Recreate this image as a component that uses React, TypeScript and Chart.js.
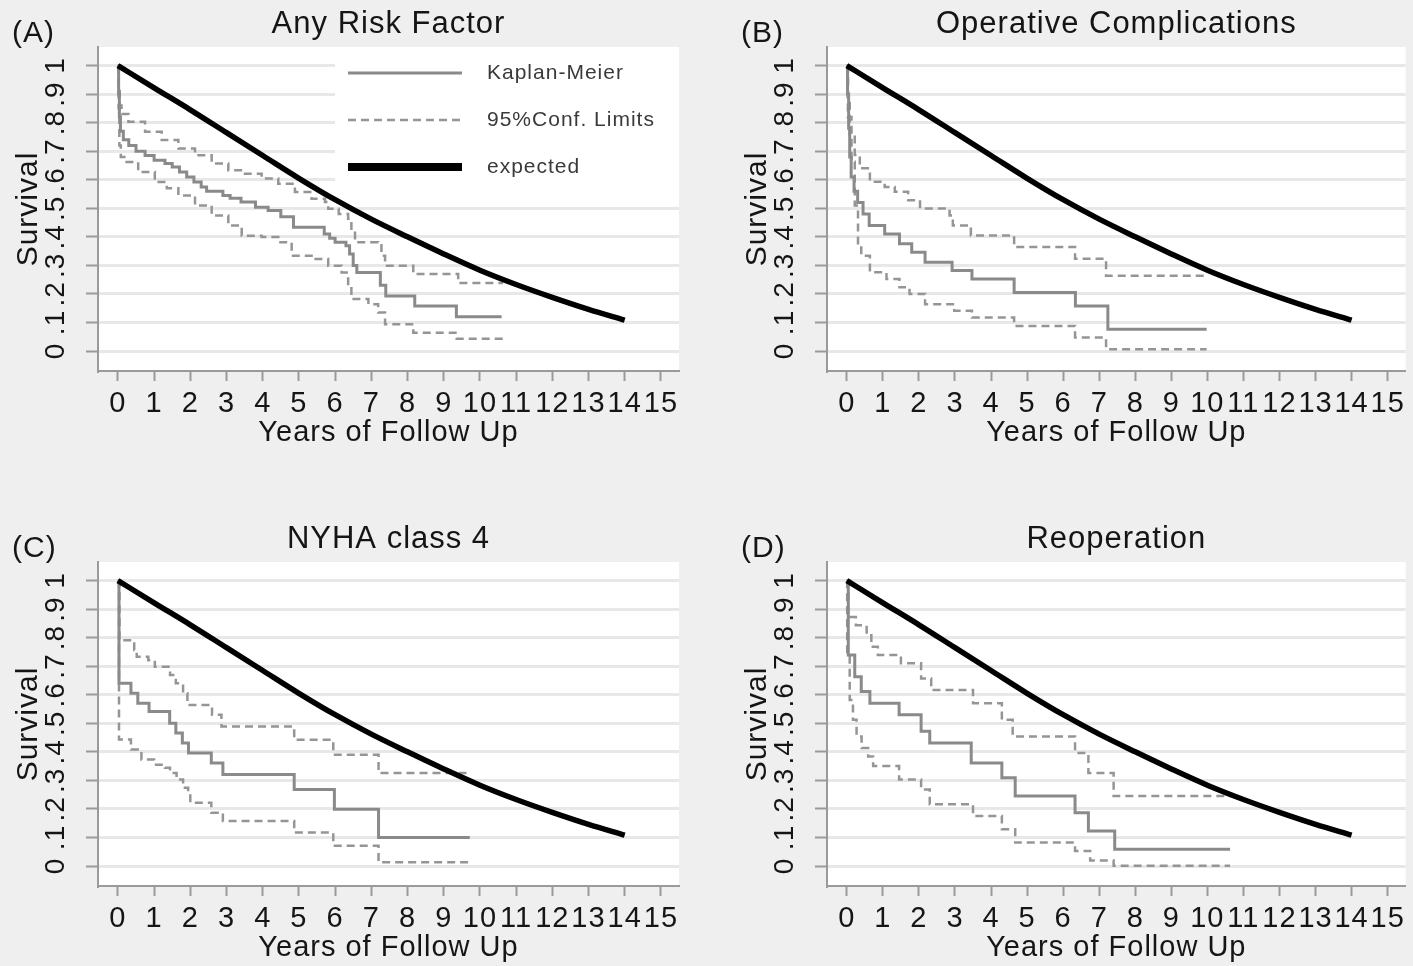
import React, { useEffect, useRef } from 'react';
import { Chart, registerables } from 'chart.js';

Chart.register(...registerables);

const FONT = '"Liberation Sans", Arial, Helvetica, sans-serif';
const TEXT = '#151515';
const KM_GRAY = '#8a8a8a';
const CI_GRAY = '#959595';
const GRID = '#e8e8e8';
const AXIS = '#9a9a9a';
const PAGE_BG = '#efefef';

// Axis ticks
const xTickValues = [0, 1, 2, 3, 4, 5, 6, 7, 8, 9, 10, 11, 12, 13, 14, 15];
const xTickLabels = ['0', '1', '2', '3', '4', '5', '6', '7', '8', '9', '10', '11', '12', '13', '14', '15'];
const yTickValues = [0, 0.1, 0.2, 0.3, 0.4, 0.5, 0.6, 0.7, 0.8, 0.9, 1];
const yTickLabels = ['0', '.1', '.2', '.3', '.4', '.5', '.6', '.7', '.8', '.9', '1'];

// Expected survival of the matched population
const expYears = [0, 1, 2, 3, 4, 5, 6, 7, 8, 9, 10, 11, 12, 13, 14];
const expSurv = [1, 0.922, 0.845, 0.765, 0.685, 0.605, 0.53, 0.462, 0.4, 0.34, 0.283, 0.233, 0.188, 0.146, 0.108];

// (A) Any risk factor: [years, survival]
const kmA: [number, number][] = [
  [0, 1], [0.02, 0.9], [0.04, 0.82], [0.07, 0.77], [0.15, 0.74], [0.3, 0.72], [0.5, 0.7], [0.75, 0.685],
  [1.0, 0.668], [1.3, 0.657], [1.5, 0.645], [1.7, 0.627], [1.9, 0.61], [2.1, 0.592], [2.3, 0.575],
  [2.45, 0.56], [2.9, 0.545], [3.1, 0.535], [3.4, 0.522], [3.8, 0.504], [4.15, 0.492], [4.5, 0.47],
  [4.85, 0.434], [5.7, 0.41], [5.85, 0.395], [6.0, 0.381], [6.3, 0.369], [6.4, 0.34], [6.5, 0.3],
  [6.6, 0.275], [7.25, 0.23], [7.4, 0.193], [8.2, 0.158], [9.35, 0.12], [10.6, 0.12],
];
const upA: [number, number][] = [
  [0, 1], [0.02, 0.93], [0.05, 0.86], [0.1, 0.83], [0.29, 0.803], [0.75, 0.768], [1.21, 0.739],
  [1.67, 0.709], [2.13, 0.686], [2.59, 0.657], [3.05, 0.633], [3.51, 0.621], [3.97, 0.604],
  [4.43, 0.586], [4.89, 0.557], [5.35, 0.533], [5.72, 0.522], [5.81, 0.498], [6.1, 0.48],
  [6.36, 0.463], [6.45, 0.428], [6.55, 0.381], [7.19, 0.375], [7.28, 0.334], [7.38, 0.299],
  [8.16, 0.27], [9.4, 0.238], [10.64, 0.238],
];
const loA: [number, number][] = [
  [0, 1], [0.02, 0.85], [0.04, 0.72], [0.08, 0.68], [0.24, 0.662], [0.56, 0.627], [1.02, 0.592],
  [1.35, 0.57], [1.67, 0.545], [2.13, 0.51], [2.59, 0.475], [3.05, 0.44], [3.42, 0.404], [3.97, 0.399],
  [4.43, 0.381], [4.8, 0.334], [5.35, 0.322], [5.81, 0.299], [6.18, 0.275], [6.36, 0.229], [6.45, 0.182],
  [6.92, 0.164], [7.19, 0.135], [7.38, 0.094], [8.16, 0.064], [9.36, 0.043], [10.64, 0.043],
];

// (B) Operative complications
const kmB: [number, number][] = [
  [0, 1], [0.02, 0.9], [0.05, 0.78], [0.08, 0.68], [0.12, 0.61], [0.2, 0.56], [0.3, 0.52], [0.45, 0.48],
  [0.62, 0.44], [1.05, 0.41], [1.46, 0.376], [1.8, 0.346], [2.17, 0.311], [2.92, 0.282], [3.47, 0.252],
  [4.64, 0.205], [6.34, 0.158], [7.24, 0.076], [9.98, 0.076],
];
const upB: [number, number][] = [
  [0, 1], [0.03, 0.88], [0.08, 0.757], [0.22, 0.687], [0.36, 0.64], [0.64, 0.593], [1.05, 0.575],
  [1.33, 0.558], [1.7, 0.528], [2.03, 0.499], [2.85, 0.475], [2.94, 0.44], [3.44, 0.405], [4.64, 0.364],
  [6.33, 0.323], [7.19, 0.264], [9.98, 0.264],
];
const loB: [number, number][] = [
  [0, 1], [0.03, 0.82], [0.13, 0.663], [0.22, 0.51], [0.31, 0.37], [0.4, 0.334], [0.64, 0.276],
  [1.1, 0.252], [1.46, 0.223], [1.74, 0.2], [2.17, 0.164], [2.98, 0.141], [3.47, 0.117], [4.64, 0.088],
  [6.33, 0.047], [7.19, 0.006], [9.98, 0.006],
];

// (C) NYHA class 4
const kmC: [number, number][] = [
  [0, 1], [0.03, 0.64], [0.36, 0.605], [0.55, 0.57], [0.86, 0.541], [1.43, 0.5], [1.6, 0.466],
  [1.78, 0.431], [1.95, 0.396], [2.58, 0.361], [2.9, 0.321], [4.87, 0.268], [5.98, 0.199], [7.2, 0.1],
  [9.72, 0.1],
];
const upC: [number, number][] = [
  [0, 1], [0.04, 0.791], [0.45, 0.756], [0.52, 0.733], [0.84, 0.721], [1.02, 0.698], [1.44, 0.669],
  [1.6, 0.64], [1.8, 0.605], [1.92, 0.564], [2.6, 0.53], [2.86, 0.489], [4.87, 0.442], [5.95, 0.39],
  [7.2, 0.326], [9.72, 0.326],
];
const loC: [number, number][] = [
  [0, 1], [0.03, 0.443], [0.36, 0.408], [0.65, 0.373], [1.0, 0.355], [1.3, 0.344], [1.44, 0.326],
  [1.62, 0.303], [1.8, 0.274], [1.94, 0.257], [2.0, 0.222], [2.58, 0.187], [2.9, 0.158], [4.87, 0.117],
  [5.95, 0.071], [7.2, 0.013], [9.72, 0.013],
];

// (D) Reoperation
const kmD: [number, number][] = [
  [0, 1], [0.04, 0.739], [0.22, 0.663], [0.4, 0.611], [0.64, 0.57], [1.45, 0.53], [2.06, 0.472],
  [2.3, 0.431], [3.45, 0.361], [4.3, 0.309], [4.67, 0.245], [6.33, 0.187], [6.7, 0.123], [7.43, 0.059],
  [10.63, 0.059],
];
const upD: [number, number][] = [
  [0, 1], [0.04, 0.872], [0.25, 0.843], [0.55, 0.808], [0.68, 0.768], [0.86, 0.739], [1.5, 0.71],
  [2.06, 0.657], [2.34, 0.617], [3.5, 0.57], [4.3, 0.512], [4.6, 0.454], [6.33, 0.396], [6.7, 0.326],
  [7.4, 0.245], [10.63, 0.245],
];
const loD: [number, number][] = [
  [0, 1], [0.01, 0.75], [0.08, 0.582], [0.17, 0.512], [0.27, 0.454], [0.41, 0.413], [0.59, 0.384],
  [0.73, 0.35], [1.45, 0.303], [2.06, 0.268], [2.3, 0.216], [3.5, 0.175], [4.3, 0.129], [4.67, 0.082],
  [6.33, 0.053], [6.75, 0.019], [7.4, 0.001], [10.63, 0.001],
];

type PanelSpec = {
  letter: string;
  title: string;
  km: [number, number][];
  upper: [number, number][];
  lower: [number, number][];
  legend: boolean;
  left: number;
  top: number;
  width: number;
  padRight: number;
};

const PANEL_HEIGHT = 451;

const panels: PanelSpec[] = [
  { letter: '(A)', title: 'Any Risk Factor', km: kmA, upper: upA, lower: loA, legend: true, left: 0, top: 0, width: 700, padRight: 21 },
  { letter: '(B)', title: 'Operative Complications', km: kmB, upper: upB, lower: loB, legend: false, left: 729, top: 0, width: 684, padRight: 5 },
  { letter: '(C)', title: 'NYHA class 4', km: kmC, upper: upC, lower: loC, legend: false, left: 0, top: 515, width: 700, padRight: 21 },
  { letter: '(D)', title: 'Reoperation', km: kmD, upper: upD, lower: loD, legend: false, left: 729, top: 515, width: 684, padRight: 5 },
];

const toPoints = (pairs: [number, number][]) => pairs.map(([x, y]) => ({ x, y }));

// Slightly open letter spacing for every text drawn on the canvas
const spacingPlugin = {
  id: 'spacing',
  beforeUpdate(chart: any) { chart.ctx.letterSpacing = '1px'; },
  beforeDraw(chart: any) { chart.ctx.letterSpacing = '1px'; },
};

// White plot region, inside legend and the panel letter
const panelPlugin = {
  id: 'panelDecor',
  beforeDraw(chart: any) {
    const { ctx, chartArea: a } = chart;
    ctx.save();
    ctx.fillStyle = '#ffffff';
    ctx.fillRect(a.left, a.top, a.right - a.left, a.bottom - a.top);
    ctx.restore();
  },
  beforeDatasetsDraw(chart: any, _args: any, opts: any) {
    if (!opts || !opts.showLegend) return;
    const { ctx, chartArea: a } = chart;
    ctx.save();
    ctx.fillStyle = '#ffffff';
    ctx.fillRect(a.left + 237, a.top, a.right - (a.left + 237), 145);
    const order = [1, 2, 0];
    order.forEach((di, i) => {
      const ds = chart.data.datasets[di];
      const y = a.top + 26 + i * 47;
      ctx.strokeStyle = ds.borderColor;
      ctx.lineWidth = di === 0 ? 8 : ds.borderWidth;
      ctx.setLineDash(ds.borderDash || []);
      ctx.beginPath();
      ctx.moveTo(a.left + 250, y);
      ctx.lineTo(a.left + 364, y);
      ctx.stroke();
      ctx.setLineDash([]);
      ctx.fillStyle = '#3a3a3a';
      ctx.font = `21px ${FONT}`;
      ctx.textAlign = 'left';
      ctx.textBaseline = 'middle';
      ctx.fillText(ds.label, a.left + 389, y);
    });
    ctx.restore();
  },
  afterDraw(chart: any, _args: any, opts: any) {
    if (!opts || !opts.letter) return;
    const { ctx } = chart;
    ctx.save();
    ctx.fillStyle = TEXT;
    ctx.font = `30px ${FONT}`;
    ctx.textAlign = 'left';
    ctx.textBaseline = 'alphabetic';
    ctx.fillText(opts.letter, 12, 42);
    ctx.restore();
  },
};

function SurvivalPanel({ spec }: { spec: PanelSpec }) {
  const ref = useRef<HTMLCanvasElement>(null);

  useEffect(() => {
    const canvas = ref.current;
    if (!canvas) return;
    const expected = expYears.map((x, i) => ({ x, y: expSurv[i] }));
    const chart = new Chart(canvas, {
      type: 'line',
      data: {
        datasets: [
          {
            label: 'expected',
            data: expected,
            borderColor: '#000000',
            borderWidth: 5.5,
            pointRadius: 0,
            fill: false,
            tension: 0.4,
            cubicInterpolationMode: 'monotone',
          },
          {
            label: 'Kaplan-Meier',
            data: toPoints(spec.km),
            borderColor: KM_GRAY,
            borderWidth: 3,
            pointRadius: 0,
            fill: false,
            stepped: true,
          },
          {
            label: '95%Conf. Limits',
            data: toPoints(spec.upper),
            borderColor: CI_GRAY,
            borderWidth: 2.5,
            borderDash: [8, 5],
            pointRadius: 0,
            fill: false,
            stepped: true,
          },
          {
            label: '95%Conf. Limits',
            data: toPoints(spec.lower),
            borderColor: CI_GRAY,
            borderWidth: 2.5,
            borderDash: [8, 5],
            pointRadius: 0,
            fill: false,
            stepped: true,
          },
        ],
      } as any,
      options: {
        animation: false,
        responsive: false,
        devicePixelRatio: 1,
        events: [],
        layout: { padding: { left: 0, right: spec.padRight, top: 0, bottom: 0 } },
        plugins: {
          legend: { display: false },
          tooltip: { enabled: false },
          title: {
            display: true,
            text: spec.title,
            fullSize: false,
            color: TEXT,
            font: { family: FONT, size: 31, weight: 'normal', lineHeight: 1 },
            padding: { top: 9, bottom: 7 },
          },
          panelDecor: { letter: spec.letter, showLegend: spec.legend },
        } as any,
        scales: {
          x: {
            type: 'linear',
            min: -0.55,
            max: 15.5,
            afterBuildTicks: (s: any) => { s.ticks = xTickValues.map((v) => ({ value: v })); },
            afterFit: (s: any) => { s.height = 80; },
            grid: { drawOnChartArea: false, drawTicks: true, tickLength: 10, tickColor: AXIS, tickWidth: 2 },
            border: { display: true, color: AXIS, width: 2 },
            ticks: {
              autoSkip: false,
              minRotation: 0,
              maxRotation: 0,
              padding: 8,
              color: TEXT,
              font: { family: FONT, size: 29, lineHeight: 1 },
              callback: (_v: any, i: number) => xTickLabels[i],
            },
            title: {
              display: true,
              text: 'Years of Follow Up',
              color: TEXT,
              font: { family: FONT, size: 29, lineHeight: 1 },
              padding: { top: 0, bottom: 3.5 },
            },
          },
          y: {
            type: 'linear',
            min: -0.07,
            max: 1.065,
            afterBuildTicks: (s: any) => { s.ticks = yTickValues.map((v) => ({ value: v })); },
            afterFit: (s: any) => { s.width = 98; },
            grid: { color: GRID, lineWidth: 3, drawTicks: true, tickLength: 12, tickColor: AXIS, tickWidth: 2 },
            border: { display: true, color: AXIS, width: 2 },
            ticks: {
              autoSkip: false,
              minRotation: 90,
              maxRotation: 90,
              crossAlign: 'center',
              padding: 17,
              color: TEXT,
              font: { family: FONT, size: 28, lineHeight: 1 },
              callback: (_v: any, i: number) => yTickLabels[i],
            },
            title: {
              display: true,
              text: 'Survival',
              color: TEXT,
              font: { family: FONT, size: 30, lineHeight: 1 },
              padding: { top: 14, bottom: 0 },
            },
          },
        } as any,
      },
      plugins: [spacingPlugin, panelPlugin],
    } as any);
    return () => chart.destroy();
  }, [spec]);

  return (
    <canvas
      ref={ref}
      width={spec.width}
      height={PANEL_HEIGHT}
      style={{ position: 'absolute', left: spec.left, top: spec.top, width: spec.width, height: PANEL_HEIGHT }}
    />
  );
}

export default function App() {
  return (
    <div
      style={{
        position: 'fixed',
        left: 0,
        top: 0,
        width: 1413,
        height: 966,
        overflow: 'hidden',
        background: PAGE_BG,
        fontFamily: FONT,
      }}
    >
      {panels.map((p) => (
        <SurvivalPanel key={p.letter} spec={p} />
      ))}
    </div>
  );
}
